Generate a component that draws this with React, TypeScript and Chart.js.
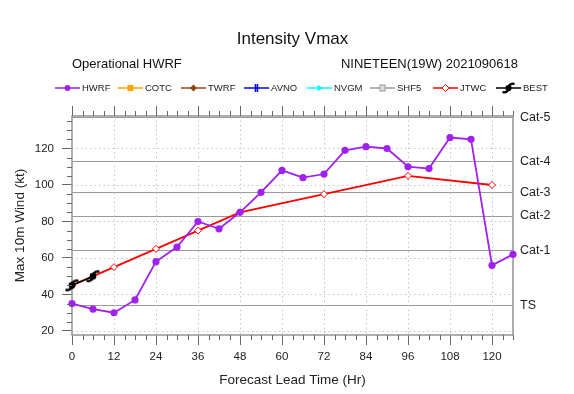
import React, { useEffect, useRef } from "react";
import { Chart, registerables } from "chart.js";

Chart.register(...registerables);

const FONT = "'Liberation Sans', Arial, Helvetica, sans-serif";

// ---- data ----
const hwrfHours = [0, 6, 12, 18, 24, 30, 36, 42, 48, 54, 60, 66, 72, 78, 84, 90, 96, 102, 108, 114, 120, 126];
const hwrfValues = [35, 32, 30, 37, 58, 66, 80, 76, 85, 96, 108, 104, 106, 119, 121, 120, 110, 109, 126, 125, 56, 62];
const jtwcHours = [0, 12, 24, 36, 48, 72, 96, 120];
const jtwcValues = [45, 55, 65, 75, 85, 95, 105, 100];
const bestHours = [0, 6];
const bestValues = [45, 50];

const xTickValues = [0, 12, 24, 36, 48, 60, 72, 84, 96, 108, 120];
const yTickValues = [20, 40, 60, 80, 100, 120];
const catValues = [34, 64, 83, 96, 113, 137];
const catLabels = ["TS", "Cat-1", "Cat-2", "Cat-3", "Cat-4", "Cat-5"];

const legendNames = ["HWRF", "COTC", "TWRF", "AVNO", "NVGM", "SHF5", "JTWC", "BEST"];
const legendColors = ["#a020f0", "#ffa500", "#8b4513", "#0000ff", "#00ffff", "#999999", "#ff0000", "#000000"];

const titleText = "Intensity Vmax";
const leftSubtitle = "Operational HWRF";
const rightSubtitle = "NINETEEN(19W) 2021090618";
const xTitle = "Forecast Lead Time (Hr)";
const yTitle = "Max 10m Wind (kt)";

const X_MIN = 0;
const X_MAX = 126;
const Y_MIN = 17.8;
const Y_MAX = 137.8;

function drawHurricane(g: CanvasRenderingContext2D, cx: number, cy: number, size: number, color: string) {
  const R = size * 0.36;
  g.save();
  g.fillStyle = color;
  g.strokeStyle = color;
  g.lineWidth = size * 0.2;
  g.lineCap = "round";
  g.beginPath();
  g.arc(cx, cy, size * 0.26, 0, Math.PI * 2);
  g.fill();
  g.beginPath();
  g.arc(cx + R, cy, R, Math.PI, Math.PI * 1.55);
  g.stroke();
  g.beginPath();
  g.arc(cx - R, cy, R, 0, Math.PI * 0.55);
  g.stroke();
  g.restore();
}

function makeHurricaneImage(size: number, color: string) {
  const c = document.createElement("canvas");
  c.width = size;
  c.height = size;
  const g = c.getContext("2d")!;
  drawHurricane(g, size / 2, size / 2, size - 3, color);
  return c;
}

function drawLegendMarker(g: CanvasRenderingContext2D, name: string, x: number, y: number, color: string) {
  g.save();
  g.fillStyle = color;
  g.strokeStyle = color;
  g.lineWidth = 1.5;
  switch (name) {
    case "HWRF":
      g.beginPath();
      g.arc(x, y, 3, 0, Math.PI * 2);
      g.fill();
      break;
    case "COTC":
      g.fillRect(x - 3, y - 3, 6, 6);
      break;
    case "TWRF":
      g.beginPath();
      g.moveTo(x, y - 3.5);
      g.lineTo(x + 3.5, y);
      g.lineTo(x, y + 3.5);
      g.lineTo(x - 3.5, y);
      g.closePath();
      g.fill();
      break;
    case "AVNO":
      g.beginPath();
      g.moveTo(x - 1, y - 4); g.lineTo(x - 1, y + 4);
      g.moveTo(x + 1, y - 4); g.lineTo(x + 1, y + 4);
      g.stroke();
      break;
    case "NVGM":
      g.beginPath();
      g.moveTo(x - 2, y - 3.5);
      g.lineTo(x + 3, y);
      g.lineTo(x - 2, y + 3.5);
      g.closePath();
      g.fill();
      break;
    case "SHF5":
      g.fillStyle = "#dddddd";
      g.fillRect(x - 2.5, y - 3, 5, 6);
      g.lineWidth = 1;
      g.strokeRect(x - 2.5, y - 3, 5, 6);
      break;
    case "JTWC":
      g.fillStyle = "#ffffff";
      g.lineWidth = 1;
      g.beginPath();
      g.moveTo(x, y - 3.5);
      g.lineTo(x + 3.5, y);
      g.lineTo(x, y + 3.5);
      g.lineTo(x - 3.5, y);
      g.closePath();
      g.fill();
      g.stroke();
      break;
    case "BEST":
      drawHurricane(g, x, y, 12, color);
      break;
  }
  g.restore();
}

const decorPlugin = {
  id: "decor",
  beforeDatasetsDraw(chart: any) {
    const { ctx, chartArea } = chart;
    const xs = chart.scales.x;
    const ys = chart.scales.y;
    const { left, right, top, bottom } = chartArea;
    ctx.save();
    ctx.strokeStyle = "#c4c4c4";
    ctx.lineWidth = 1;
    ctx.setLineDash([1.5, 3]);
    xTickValues.forEach((v) => {
      if (v === X_MIN) return;
      const px = Math.round(xs.getPixelForValue(v)) + 0.5;
      ctx.beginPath();
      ctx.moveTo(px, top);
      ctx.lineTo(px, bottom);
      ctx.stroke();
    });
    yTickValues.forEach((v) => {
      const py = Math.round(ys.getPixelForValue(v)) + 0.5;
      ctx.beginPath();
      ctx.moveTo(left, py);
      ctx.lineTo(right, py);
      ctx.stroke();
    });
    ctx.setLineDash([]);
    ctx.strokeStyle = "#9a9a9a";
    ctx.lineWidth = 1.6;
    ctx.strokeRect(left, top, right - left, bottom - top);
    ctx.restore();
  },
  afterDraw(chart: any) {
    const { ctx, chartArea } = chart;
    const xs = chart.scales.x;
    const ys = chart.scales.y;
    const { left, right, top, bottom } = chartArea;
    ctx.save();
    ctx.strokeStyle = "#666";
    ctx.lineWidth = 1;
    xTickValues.forEach((v) => {
      const px = Math.round(xs.getPixelForValue(v)) + 0.5;
      ctx.beginPath();
      ctx.moveTo(px, top);
      ctx.lineTo(px, top - 10);
      ctx.stroke();
    });
    for (let v = X_MIN; v <= X_MAX; v += 3) {
      if (v % 12 === 0) continue;
      const px = Math.round(xs.getPixelForValue(v)) + 0.5;
      ctx.beginPath();
      ctx.moveTo(px, top);
      ctx.lineTo(px, top - 5);
      ctx.moveTo(px, bottom);
      ctx.lineTo(px, bottom + 5);
      ctx.stroke();
    }
    for (let v = 20; v <= Y_MAX; v += 5) {
      if (v % 20 === 0) continue;
      const py = Math.round(ys.getPixelForValue(v)) + 0.5;
      ctx.beginPath();
      ctx.moveTo(left, py);
      ctx.lineTo(left - 5, py);
      ctx.stroke();
    }
    ctx.fillStyle = "#111";
    ctx.textBaseline = "middle";
    ctx.textAlign = "center";
    ctx.font = `17px ${FONT}`;
    ctx.fillText(titleText, (left + right) / 2, 39);
    ctx.font = `13px ${FONT}`;
    ctx.textAlign = "left";
    ctx.fillText(leftSubtitle, left, 64);
    ctx.textAlign = "right";
    ctx.fillText(rightSubtitle, 518, 64);
    const ly = 88;
    ctx.font = `9.5px ${FONT}`;
    ctx.textAlign = "left";
    legendNames.forEach((name, i) => {
      const x0 = 55 + i * 63;
      const col = legendColors[i];
      ctx.strokeStyle = col;
      ctx.lineWidth = 1.5;
      ctx.beginPath();
      ctx.moveTo(x0, ly);
      ctx.lineTo(x0 + 25, ly);
      ctx.stroke();
      drawLegendMarker(ctx, name, x0 + 12.5, ly, col);
      ctx.fillStyle = "#222";
      ctx.fillText(name, x0 + 27, ly);
    });
    ctx.restore();
  },
};

export default function App() {
  const ref = useRef<HTMLCanvasElement | null>(null);
  useEffect(() => {
    if (!ref.current) return;
    const hurricane = makeHurricaneImage(16, "#000000");
    const emptyNames = ["COTC", "TWRF", "AVNO", "NVGM", "SHF5"];
    const chart = new Chart(ref.current, {
      type: "line",
      data: {
        datasets: [
          {
            label: "BEST",
            data: bestHours.map((h, i) => ({ x: h, y: bestValues[i] })),
            borderColor: "#000000",
            backgroundColor: "#000000",
            borderWidth: 1.6,
            pointStyle: hurricane as any,
            pointRadius: 7,
            order: 0,
            clip: false as any,
          },
          {
            label: "HWRF",
            data: hwrfHours.map((h, i) => ({ x: h, y: hwrfValues[i] })),
            borderColor: "#a020f0",
            backgroundColor: "#a020f0",
            pointBackgroundColor: "#a020f0",
            pointBorderColor: "#a020f0",
            pointBorderWidth: 0,
            borderWidth: 1.8,
            pointStyle: "circle",
            pointRadius: 3.6,
            order: 1,
            clip: false as any,
          },
          {
            label: "JTWC",
            data: jtwcHours.map((h, i) => ({ x: h, y: jtwcValues[i] })),
            borderColor: "#ff0000",
            backgroundColor: "#ff0000",
            pointBackgroundColor: "#ffffff",
            pointBorderColor: "#ff0000",
            pointBorderWidth: 1,
            borderWidth: 1.8,
            pointStyle: "rectRot",
            pointRadius: 3.5,
            order: 2,
            clip: false as any,
          },
          ...emptyNames.map((n) => ({
            label: n,
            data: [] as any[],
            borderColor: legendColors[legendNames.indexOf(n)],
            order: 3,
          })),
        ],
      },
      options: {
        animation: false,
        responsive: false,
        devicePixelRatio: 1,
        layout: { padding: { top: 116, left: 0, right: 0, bottom: 0 } },
        plugins: { legend: { display: false }, tooltip: { enabled: false }, title: { display: false } },
        elements: { line: { tension: 0 } },
        scales: {
          x: {
            type: "linear",
            min: X_MIN,
            max: X_MAX,
            position: "bottom",
            afterBuildTicks: (s: any) => {
              s.ticks = xTickValues.map((v) => ({ value: v }));
            },
            afterFit: (s: any) => {
              s.height = 59;
            },
            grid: { drawOnChartArea: false, drawTicks: true, tickLength: 10, tickColor: "#666", color: "#666" },
            border: { display: false },
            ticks: { font: { family: FONT, size: 11.5 }, color: "#222", padding: 5, maxRotation: 0, autoSkip: false },
            title: {
              display: true,
              text: xTitle,
              font: { family: FONT, size: 13.5 },
              color: "#222",
              padding: { top: 0, bottom: 6 },
            },
          },
          y: {
            type: "linear",
            min: Y_MIN,
            max: Y_MAX,
            position: "left",
            afterBuildTicks: (s: any) => {
              s.ticks = yTickValues.map((v) => ({ value: v }));
            },
            afterFit: (s: any) => {
              s.width = 72;
            },
            grid: { drawOnChartArea: false, drawTicks: true, tickLength: 10, tickColor: "#666", color: "#666" },
            border: { display: false },
            ticks: { font: { family: FONT, size: 11.5 }, color: "#222", padding: 8 },
            title: {
              display: true,
              text: yTitle,
              font: { family: FONT, size: 13.5 },
              color: "#222",
              padding: { top: 12.5, bottom: 0 },
            },
          },
          y2: {
            type: "linear",
            min: Y_MIN,
            max: Y_MAX,
            position: "right",
            afterBuildTicks: (s: any) => {
              s.ticks = catValues.map((v) => ({ value: v }));
            },
            afterFit: (s: any) => {
              s.width = 61;
            },
            grid: { drawOnChartArea: true, drawTicks: false, color: "#9a9a9a", lineWidth: 1 },
            border: { display: false },
            ticks: {
              font: { family: FONT, size: 12.5 },
              color: "#222",
              padding: 7,
              callback: (v: any) => catLabels[catValues.indexOf(Number(v))],
            },
          },
        },
      },
      plugins: [decorPlugin],
    } as any);
    return () => chart.destroy();
  }, []);
  return (
    <div style={{ position: "absolute", left: 0, top: 0, width: 574, height: 394, background: "#fff" }}>
      <canvas ref={ref} width={574} height={394} style={{ display: "block", width: 574, height: 394 }} />
    </div>
  );
}
